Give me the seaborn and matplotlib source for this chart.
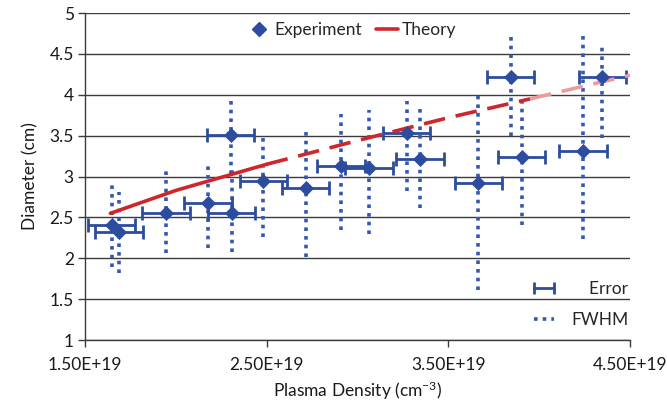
import matplotlib
matplotlib.use("Agg")
import matplotlib.pyplot as plt
from matplotlib.lines import Line2D
from matplotlib.ticker import FuncFormatter, FixedLocator, MultipleLocator
import numpy as np
import pandas as pd
import seaborn as sns

# measured points (plasma density in cm^-3, diameter in cm)
density = [1.647e19, 1.687e19, 1.946e19, 2.177e19, 2.302e19, 2.307e19, 2.481e19,
           2.715e19, 2.909e19, 3.063e19, 3.270e19, 3.344e19, 3.665e19, 3.843e19,
           3.903e19, 4.242e19, 4.347e19]
diameter = [2.41, 2.32, 2.56, 2.68, 3.51, 2.56, 2.95,
            2.86, 3.13, 3.10, 3.53, 3.21, 2.92, 4.22,
            3.24, 3.31, 4.22]
density_err = [0.13e19] * 17
fwhm_low = [1.89, 1.82, 2.07, 2.12, 3.03, 2.08, 2.26,
            2.01, 2.34, 2.30, 2.82, 2.61, 1.61, 3.49,
            2.41, 2.24, 3.47]
fwhm_high = [2.92, 2.81, 3.08, 3.14, 3.97, 3.10, 3.49,
             3.61, 3.76, 3.81, 3.93, 3.83, 4.03, 4.72,
             3.91, 4.74, 4.59]

# theory curve
theory_density = [1.64e19, 2.0e19, 2.5e19, 3.0e19, 3.5e19, 3.95e19, 4.5e19]
theory_diameter = [2.55, 2.83, 3.15, 3.44, 3.72, 3.95, 4.24]

x_ticks = [1.5e19, 2.5e19, 3.5e19, 4.5e19]

blue = "#2C4C9E"
dot_blue = "#3558AE"
red = "#D0262B"

sns.set_theme(style="white")
plt.rcParams["font.family"] = ["Lato", "DejaVu Sans"]
plt.rcParams["mathtext.default"] = "regular"

fig, ax = plt.subplots(figsize=(6.67, 4.09), dpi=100)
fig.subplots_adjust(left=0.1274, right=0.9445, top=0.968, bottom=0.1687)

df = pd.DataFrame({"density": density, "diameter": diameter})
theory = pd.DataFrame({"density": theory_density, "diameter": theory_diameter})

# FWHM dotted bars
dot_style = (0, (1, 1.4))
ax.vlines(density, fwhm_low, fwhm_high, colors=dot_blue,
          linestyles=[dot_style], linewidth=2.6, zorder=2)

# horizontal error bars
ax.errorbar(density, diameter, xerr=density_err, fmt="none", ecolor=blue,
            elinewidth=2.0, capsize=5, capthick=2.0, zorder=3)

# theory: solid, dashed, then faded dashed part
solid = theory[theory["density"] <= 2.5e19]
dashed = theory[(theory["density"] >= 2.5e19) & (theory["density"] <= 3.95e19)]
faded = theory[theory["density"] >= 3.95e19]
sns.lineplot(data=solid, x="density", y="diameter", color=red, lw=2.6, ax=ax, zorder=3)
sns.lineplot(data=dashed, x="density", y="diameter", color=red, lw=2.6, ax=ax,
             zorder=3, dashes=False, linestyle=(0, (6, 3)))
sns.lineplot(data=faded, x="density", y="diameter", color="#EE9A9A", lw=2.6, ax=ax,
             zorder=3, dashes=False, linestyle=(0, (6, 3)))

# experiment diamonds
sns.scatterplot(data=df, x="density", y="diameter", marker="D", s=52, color=blue,
                edgecolor=blue, linewidth=0.5, ax=ax, zorder=4)

ax.set_xlim(1.5e19, 4.5e19)
ax.set_ylim(1, 5)
ax.xaxis.set_major_locator(FixedLocator(x_ticks))
ax.yaxis.set_major_locator(MultipleLocator(0.5))
ax.xaxis.set_major_formatter(FuncFormatter(lambda v, p: f"{v:.2E}"))
ax.yaxis.set_major_formatter(FuncFormatter(lambda v, p: f"{v:g}"))

ax.yaxis.grid(True, color="#3c3c3c", lw=1.0)
ax.xaxis.grid(False)
ax.set_axisbelow(True)
for side in ["top", "right"]:
    ax.spines[side].set_visible(False)
for side in ["left", "bottom"]:
    ax.spines[side].set_color("#3c3c3c")
    ax.spines[side].set_linewidth(1.0)

ax.tick_params(axis="x", bottom=True, direction="out", length=5, width=1,
               color="#3c3c3c", labelsize=12.5, pad=7, labelcolor="#1a1a1a")
ax.tick_params(axis="y", left=True, direction="out", length=5, width=1,
               color="#3c3c3c", labelsize=12.5, pad=3, labelcolor="#1a1a1a")

ax.set_xlabel("Plasma Density (cm$^{-3}$)", fontsize=12.5, color="#1a1a1a", labelpad=5)
ax.set_ylabel("Diameter (cm)", fontsize=12.5, color="#1a1a1a", labelpad=8)

# top legend
top_handles = [
    Line2D([], [], marker="D", ls="none", color=blue, markersize=7),
    Line2D([], [], color=red, lw=2.6),
]
leg1 = ax.legend(top_handles, ["Experiment", "Theory"], loc="center",
                 bbox_to_anchor=(0.49, 0.948), ncol=2, frameon=False,
                 fontsize=12.5, handlelength=1.3, handletextpad=0.2,
                 columnspacing=0.8, borderpad=0.2)
ax.add_artist(leg1)

# lower right legend
err_handle = Line2D([], [], color=blue, lw=2.0, marker="|", markersize=8,
                    markeredgewidth=2.0)
fwhm_handle = Line2D([], [], color=dot_blue, lw=2.6, ls=dot_style)
ax.legend([err_handle, fwhm_handle], ["    Error", "FWHM"], loc="lower right",
          bbox_to_anchor=(1.0, 0.03), frameon=False, fontsize=12.5, numpoints=2,
          handlelength=1.75, handletextpad=0.7, labelspacing=0.9,
          borderaxespad=0, borderpad=0.1)

fig.savefig("out.png", dpi=100)
